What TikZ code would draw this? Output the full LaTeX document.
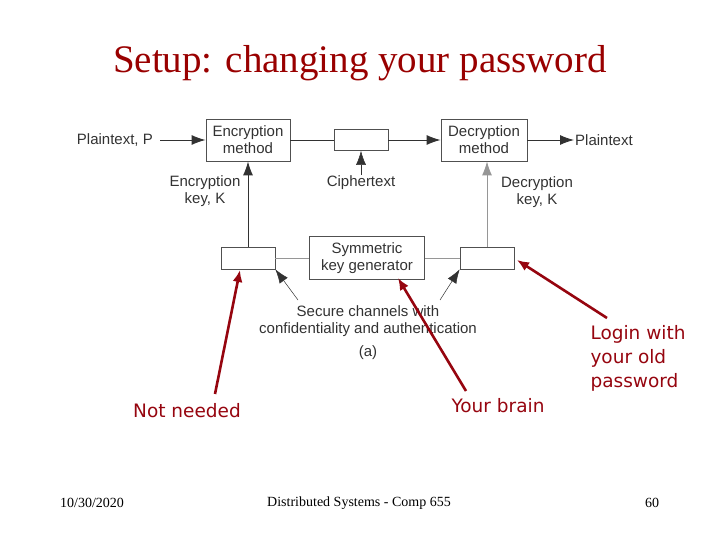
\documentclass[tikz,border=0pt]{standalone}
\usepackage{fontspec}
\setmainfont{Liberation Serif}
\newfontfamily\diag{Liberation Sans}
\newfontfamily\note{DejaVu Sans}
\usetikzlibrary{arrows.meta}
\definecolor{titlered}{RGB}{153,0,0}
\definecolor{annred}{RGB}{150,5,15}
\definecolor{boxgray}{RGB}{80,80,80}
\definecolor{linegray}{RGB}{150,150,150}
\definecolor{dark}{RGB}{50,50,50}
\tikzset{
  bigbox/.style={draw=boxgray, line width=0.9pt, minimum width=84pt, minimum height=42pt, align=center, font=\diag\fontsize{15}{17}\selectfont, text=dark, inner sep=1pt},
  smallbox/.style={draw=boxgray, line width=0.7pt, minimum width=54pt, minimum height=22pt},
  lbl/.style={align=center, font=\diag\fontsize{15}{17.5}\selectfont, text=dark, inner sep=1pt},
  darr/.style={draw=dark, line width=0.9pt, -{Latex[length=14pt,width=10pt]}},
  dline/.style={draw=dark, line width=0.9pt},
  gline/.style={draw=linegray, line width=0.9pt},
  thinarr/.style={draw=dark, line width=0.5pt, -{Latex[length=14pt,width=10pt]}},
  redarr/.style={draw=annred, line width=2.6pt, -{Latex[length=12pt,width=10pt]}},
  redtxt/.style={text=annred, font=\note\fontsize{18.5}{24}\selectfont, align=left},
  foot/.style={font=\fontsize{14}{16}\selectfont}
}
\begin{document}
\begin{tikzpicture}[x=1pt,y=-1pt]
\useasboundingbox (0,0) rectangle (720,540);
\node[text=titlered, font=\fontsize{39}{44}\selectfont] (title) at (360,63) {Setup: changing your password};
% top row
\node[bigbox] (enc) at (248,140) {Encryption\\method};
\node[smallbox, minimum height=21pt] (ciph) at (361,140) {};
\node[bigbox, minimum width=86pt] (dec) at (484,140) {Decryption\\method};
\node[lbl, anchor=east] (pin) at (154,140) {Plaintext, P};
\node[lbl, anchor=west] (pout) at (574,140) {Plaintext};
\draw[darr] (pin.east) ++(6,0) coordinate (pinr) -- (enc.west);
\draw[dline] (enc.east) -- (ciph.west);
\draw[darr] (ciph.east) -- (dec.west);
\draw[darr] (dec.east) -- (pout.west);
\node[lbl] (ctext) at (361,183) {Ciphertext};
\draw[thinarr] (ctext.north) -- (ciph.south);
\node[lbl] (ekey) at (205,191) {Encryption\\key, K};
\node[lbl] (dkey) at (537,192) {Decryption\\key, K};
% bottom row
\node[smallbox] (lk) at (248,258) {};
\node[smallbox] (rk) at (487,258) {};
\node[bigbox, minimum width=115pt, minimum height=43pt] (gen) at (367,258) {Symmetric\\key generator};
\draw[gline] (lk.east) -- (gen.west);
\draw[gline] (gen.east) -- (rk.west);
\draw[darr] (lk.north) -- (enc.south);
\draw[gline, -{Latex[length=14pt,width=10pt]}, fill=dark] (rk.north) -- (rk.north |- dec.south);
\node[lbl] (sec) at (368,321) {Secure channels with\\confidentiality and authentication};
\node[lbl] (a) at (368,353) {(a)};
\coordinate (s1) at (298,300);
\coordinate (s2) at (440,300);
\draw[thinarr] (s1) -- (lk.south east);
\draw[thinarr] (s2) -- (rk.south west);
% red annotations
\node[redtxt] (nn) at (187,411) {Not needed};
\node[redtxt] (yb) at (498,406) {Your brain};
\node[redtxt, anchor=west] (login) at (587,358) {Login with\\your old\\password};
\draw[redarr] (215,394) coordinate (nnt) -- (240,270);
\draw[redarr] (466,391) coordinate (ybt) -- (398,278);
\draw[redarr] (607,318) coordinate (lgt) -- (517,260);
% footer
\node[foot] (date) at (92,503) {10/30/2020};
\node[foot] (course) at (359,503) {Distributed Systems - Comp 655};
\node[foot] (page) at (652,503) {60};
\end{tikzpicture}
\end{document}
